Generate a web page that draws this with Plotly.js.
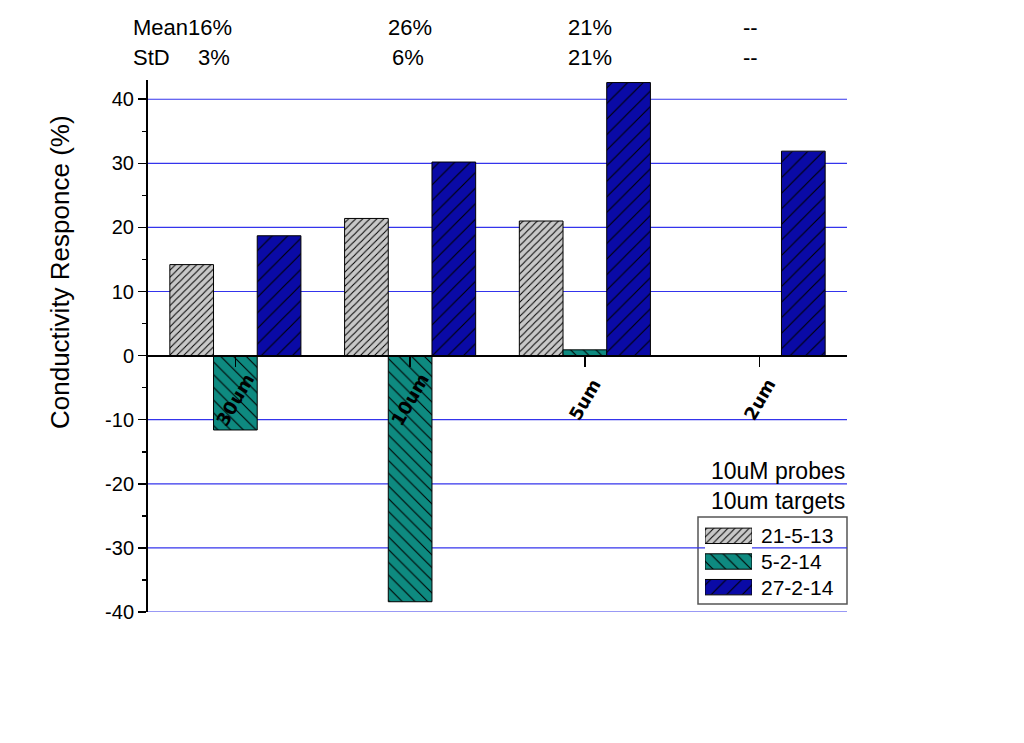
<!DOCTYPE html>
<html>
<head>
<meta charset="utf-8">
<script src="https://cdn.plot.ly/plotly-3.0.1.min.js"></script>
<style>html,body{margin:0;padding:0;background:#fff;}#chart{width:1024px;height:743px;}</style>
</head>
<body>
<div id="chart"></div>
<script>
const categories = ['30um', '10um', '5um', '2um'];
const seriesNames = ['21-5-13', '5-2-14', '27-2-14'];
const vals_21_5_13 = [14.2, 21.4, 21.0, 0];
const vals_5_2_14 = [-11.6, -38.4, 0.9, 0];
const vals_27_2_14 = [18.7, 30.2, 42.6, 31.9];
const meanLabels = ['Mean16%', '26%', '21%', '--'];
const stdLabels = ['StD', '3%', '6%', '21%', '--'];
const legendHeader = ['10uM probes', '10um targets'];
const yTickVals = [-40, -30, -20, -10, 0, 10, 20, 30, 40];
const yTickText = yTickVals.map(v => String(v));

const FONT = 'Arial, "Liberation Sans", sans-serif';
const GRID = '#3434ec';
const seriesColors = ['#c8c8c8', '#0e8a80', '#0a0aa6'];
const seriesShapes = ['/', '\\', '/'];
const seriesPatSize = [5, 9, 11];
const seriesSolid = [0.2, 0.12, 0.1];

function pxX(px) { return (px - 148) / 699; }
function pxY(py) { return (612 - py) / 532; }

function markerFor(i) {
  return {
    color: seriesColors[i],
    line: {color: '#000', width: 1},
    pattern: {shape: seriesShapes[i], fgcolor: '#000', bgcolor: seriesColors[i], size: seriesPatSize[i], solidity: seriesSolid[i]}
  };
}

function barTrace(i, y) {
  return {
    type: 'bar', name: seriesNames[i], x: categories, y: y,
    xaxis: 'x', yaxis: 'y', showlegend: false,
    marker: markerFor(i), hoverinfo: 'skip'
  };
}

function keyTrace(i) {
  return {
    type: 'bar', orientation: 'h', xaxis: 'x2', yaxis: 'y2', showlegend: false,
    y: [seriesNames[i]], x: [1], width: 0.6, offset: -0.3,
    marker: markerFor(i), hoverinfo: 'skip'
  };
}

const data = [
  barTrace(0, vals_21_5_13),
  barTrace(1, vals_5_2_14),
  barTrace(2, vals_27_2_14),
  keyTrace(0), keyTrace(1), keyTrace(2)
];

const yMin = -40, yMax = 43;
const zeroPos = (0 - yMin) / (yMax - yMin);

const ann = [];
function addAnn(a, size) {
  if (!a.xref) a.xref = 'paper';
  if (!a.yref) a.yref = 'paper';
  if (!a.yanchor) a.yanchor = 'middle';
  a.showarrow = false;
  if (!a.font) a.font = {family: FONT, size: size || 22, color: '#000'};
  ann.push(a);
}
addAnn({text: meanLabels[0], x: pxX(131), y: pxY(28), xanchor: 'left'});
addAnn({text: meanLabels[1], x: 1, y: pxY(28), xanchor: 'center', xref: 'x'});
addAnn({text: meanLabels[2], x: 2.03, y: pxY(28), xanchor: 'center', xref: 'x'});
addAnn({text: meanLabels[3], x: 2.95, y: pxY(28), xanchor: 'center', xref: 'x'});
addAnn({text: stdLabels[0], x: pxX(131), y: pxY(57), xanchor: 'left'});
addAnn({text: stdLabels[1], x: pxX(232), y: pxY(57), xanchor: 'right'});
addAnn({text: stdLabels[2], x: 0.99, y: pxY(57), xanchor: 'center', xref: 'x'});
addAnn({text: stdLabels[3], x: 2.03, y: pxY(57), xanchor: 'center', xref: 'x'});
addAnn({text: stdLabels[4], x: 2.95, y: pxY(57), xanchor: 'center', xref: 'x'});
addAnn({text: legendHeader[0], x: 1, y: pxY(471), xanchor: 'right'}, 23);
addAnn({text: legendHeader[1], x: 1, y: pxY(501), xanchor: 'right'}, 23);
addAnn({text: 'Conductivity Responce (%)', x: pxX(60), y: pxY(272), xanchor: 'center', textangle: -90}, 26);
categories.forEach(c => {
  addAnn({text: '<b>' + c + '</b>', x: c, xref: 'x', y: -6.9, yref: 'y', xanchor: 'center', yanchor: 'middle',
    textangle: -60, font: {family: '"DejaVu Sans", sans-serif', size: 18, color: '#000'}});
});

// horizontal grid lines at each non-zero y tick, through the y scale
const gridShapes = yTickVals.filter(v => v !== 0).map(v => ({
  type: 'line', xref: 'paper', yref: 'y', x0: 0, x1: 1, y0: v, y1: v,
  line: {color: GRID, width: 1.2}, layer: 'below'
}));

const layout = {
  width: 1024, height: 743,
  margin: {l: 148, r: 177, t: 80, b: 131},
  paper_bgcolor: '#fff', plot_bgcolor: '#fff',
  font: {family: FONT, size: 20, color: '#000'},
  barmode: 'group', bargap: 0.25, bargroupgap: 0,
  showlegend: false,
  xaxis: {
    type: 'category', range: [-0.5, 3.5],
    anchor: 'free', position: zeroPos,
    showline: true, linecolor: '#000', linewidth: 2,
    ticks: 'outside', ticklen: 10, tickcolor: '#000', tickwidth: 1.5,
    showticklabels: false, showgrid: false, zeroline: false
  },
  yaxis: {
    range: [yMin, yMax], tickmode: 'array', tickvals: yTickVals, ticktext: yTickText,
    showline: true, linecolor: '#000', linewidth: 2,
    ticks: 'outside', ticklen: 8, tickcolor: '#000', tickwidth: 1.5,
    minor: {tickmode: 'linear', dtick: 5, tick0: 0, ticks: 'outside', ticklen: 4, tickcolor: '#000', tickwidth: 1.5, showgrid: false},
    showgrid: false,
    zeroline: true, zerolinecolor: '#000', zerolinewidth: 2,
    tickfont: {family: FONT, size: 20, color: '#000'}
  },
  xaxis2: {
    domain: [pxX(705), pxX(752)], range: [0, 1], anchor: 'y2',
    showgrid: false, zeroline: false, showline: false, showticklabels: false, ticks: '', fixedrange: true
  },
  yaxis2: {
    domain: [pxY(600), pxY(523)], anchor: 'x2', type: 'category', autorange: 'reversed',
    side: 'right', showgrid: false, zeroline: false, showline: false, ticks: '',
    ticklabelstandoff: 8, tickfont: {family: FONT, size: 21, color: '#000'}
  },
  shapes: [
    {type: 'rect', xref: 'paper', yref: 'paper', x0: pxX(698), x1: 1, y0: pxY(604), y1: pxY(517),
     line: {color: '#555', width: 1.5}, fillcolor: '#fff', layer: 'below'}
  ].concat(gridShapes),
  annotations: ann
};

Plotly.newPlot('chart', data, layout, {displayModeBar: false, staticPlot: true});
</script>
</body>
</html>
